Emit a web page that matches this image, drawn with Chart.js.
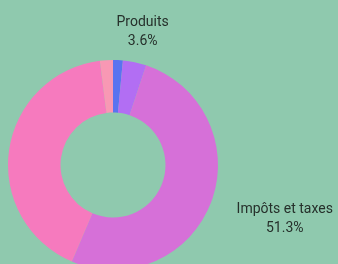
<!DOCTYPE html>
<html>
<head>
    <meta charset="utf-8">
    <script src="https://cdn.jsdelivr.net/npm/chart.js"></script>
    <style>
        html, body { margin: 0; padding: 0; background: #8fc9ae; overflow: hidden; }
        .wrap { width: 338px; height: 330px; }
    </style>
</head>
<body>
    <div class="wrap"><canvas id="chart" width="338" height="330"></canvas></div>

    <script>
        // Slices, clockwise from the top
        const labels = ['Atténuations de charges', 'Produits', 'Impôts et taxes', 'Dotations et participations', 'Autres recettes'];
        const values = [1.5, 3.6, 51.3, 41.6, 2.0];
        const colors = ['#5a73f0', '#b26ef3', '#d670d8', '#f67abe', '#f898b4'];
        const showLabel = [false, true, true, false, false];

        const total = values.reduce((a, b) => a + b, 0);

        // Draw name + percentage outside the arc
        const outsideLabels = {
            id: 'outsideLabels',
            afterDatasetsDraw(chart) {
                const ctx = chart.ctx;
                const meta = chart.getDatasetMeta(0);
                ctx.save();
                ctx.font = '14px Roboto, sans-serif';
                ctx.fillStyle = '#26302b';
                ctx.textAlign = 'center';
                ctx.textBaseline = 'middle';
                meta.data.forEach((arc, i) => {
                    if (!showLabel[i]) return;
                    const p = arc.getProps(['x', 'y', 'startAngle', 'endAngle', 'outerRadius'], true);
                    const mid = (p.startAngle + p.endAngle) / 2;
                    const dx = Math.cos(mid), dy = Math.sin(mid);
                    const pct = (values[i] / total * 100).toFixed(1) + '%';
                    const w = Math.max(ctx.measureText(labels[i]).width, ctx.measureText(pct).width);
                    const h = 38;
                    const r = p.outerRadius + 8;
                    const cx = p.x + dx * (r + w / 2) + dx * Math.abs(dx) * 24;
                    const cy = p.y + dy * (r + h / 2) + dy * Math.abs(dx) * 22;
                    ctx.fillText(labels[i], cx, cy - 9);
                    ctx.fillText(pct, cx, cy + 10);
                });
                ctx.restore();
            }
        };

        new Chart(document.getElementById('chart'), {
            type: 'doughnut',
            data: {
                labels: labels,
                datasets: [{
                    data: values,
                    backgroundColor: colors,
                    borderWidth: 0
                }]
            },
            options: {
                responsive: false,
                animation: false,
                cutout: '50%',
                layout: { padding: { left: 8, right: 120, top: 60, bottom: 60 } },
                plugins: {
                    legend: { display: false },
                    tooltip: { enabled: false }
                }
            },
            plugins: [outsideLabels]
        });
    </script>
</body>
</html>
